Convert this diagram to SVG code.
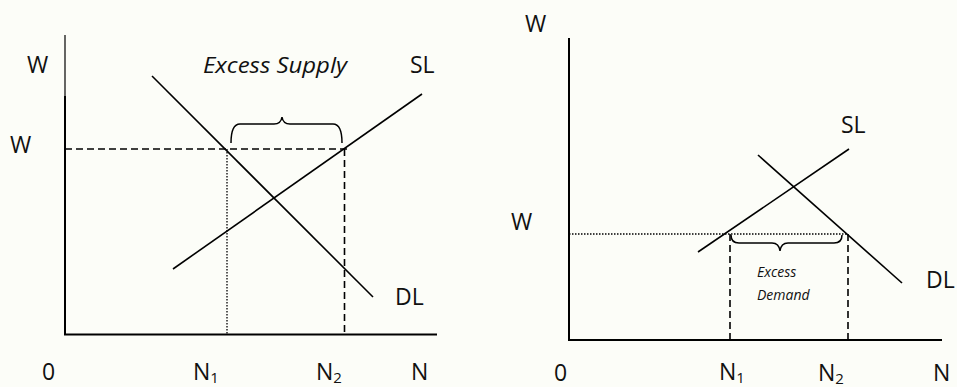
<svg xmlns="http://www.w3.org/2000/svg" width="957" height="387" viewBox="0 0 957 387">
<style>
.bg{fill:#fcfdf8}
.axis{stroke:#000;stroke-width:2;fill:none}
.thin{stroke:#000;stroke-width:1.2;fill:none}
.curve{stroke:#000;stroke-width:1.6;fill:none}
.dash{stroke:#000;stroke-width:1.6;stroke-dasharray:7 4;fill:none}
.dot{stroke:#000;stroke-width:1.3;stroke-dasharray:1.5 1.5;fill:none}
.brace{stroke:#000;stroke-width:1.5;fill:none}
text{font-family:"Open Sans","Liberation Sans",sans-serif;fill:#111}
.lbl{font-size:23px}
.sub{font-size:15px}
.it{font-style:italic}
</style>
<rect class="bg" x="0" y="0" width="957" height="387"/>

<g id="left-chart">
  <g id="left-axes">
    <line class="thin" x1="65" y1="35" x2="65" y2="96"/>
    <line class="axis" x1="65" y1="96" x2="65" y2="335"/>
    <line class="axis" x1="64" y1="334.5" x2="437" y2="334.5"/>
  </g>
  <g id="left-DL"><line class="curve" x1="152" y1="76" x2="373" y2="297"/></g>
  <g id="left-SL"><line class="curve" x1="173" y1="269" x2="422" y2="94"/></g>
  <g id="left-guides">
    <line class="dash" x1="65" y1="149" x2="348" y2="149"/>
    <line class="dot" x1="227" y1="149" x2="227" y2="334"/>
    <line class="dash" x1="344.5" y1="149" x2="344.5" y2="334"/>
  </g>
  <g id="left-brace">
    <path class="brace" d="M231 143 Q231 124 240 124 L274 124 Q281 124 282 117 Q283 124 290 124 L333 124 Q342 124 342 143"/>
  </g>
  <g id="left-labels">
    <text class="lbl" x="27" y="73">W</text>
    <text class="lbl" x="10" y="153">W</text>
    <text class="it" x="203" y="73" font-size="22" textLength="144" lengthAdjust="spacingAndGlyphs">Excess Supply</text>
    <text class="lbl" x="410" y="73">SL</text>
    <text class="lbl" x="395" y="305">DL</text>
    <text class="lbl" x="42" y="380">0</text>
    <text class="lbl" x="193" y="380">N<tspan class="sub" dy="3">1</tspan></text>
    <text class="lbl" x="316" y="380">N<tspan class="sub" dy="3">2</tspan></text>
    <text class="lbl" x="411" y="380">N</text>
  </g>
</g>

<g id="right-chart">
  <g id="right-axes">
    <line class="axis" x1="569" y1="38" x2="569" y2="341"/>
    <line class="axis" x1="568" y1="340" x2="942" y2="340"/>
  </g>
  <g id="right-SL"><line class="curve" x1="698" y1="252" x2="849" y2="149"/></g>
  <g id="right-DL"><line class="curve" x1="758" y1="155" x2="902" y2="283"/></g>
  <g id="right-guides">
    <line class="dot" x1="569" y1="234" x2="847" y2="234"/>
    <line class="dash" x1="730" y1="234" x2="730" y2="340"/>
    <line class="dash" x1="848" y1="234" x2="848" y2="340"/>
  </g>
  <g id="right-brace">
    <path class="brace" d="M731 235 Q731 243 739 243 L772 243 Q779 243 780 251 Q781 243 788 243 L834 243 Q842 243 842 235"/>
  </g>
  <g id="right-labels">
    <text class="lbl" x="525" y="32">W</text>
    <text class="lbl" x="511" y="230">W</text>
    <text class="lbl" x="841" y="133">SL</text>
    <text class="lbl" x="926" y="288" font-size="22">DL</text>
    <text class="it" x="757" y="277" font-size="14">Excess</text>
    <text class="it" x="757" y="300" font-size="14">Demand</text>
    <text class="lbl" x="554" y="381">0</text>
    <text class="lbl" x="719" y="380">N<tspan class="sub" dy="3">1</tspan></text>
    <text class="lbl" x="818" y="381">N<tspan class="sub" dy="3">2</tspan></text>
    <text class="lbl" x="933" y="381">N</text>
  </g>
</g>
</svg>
